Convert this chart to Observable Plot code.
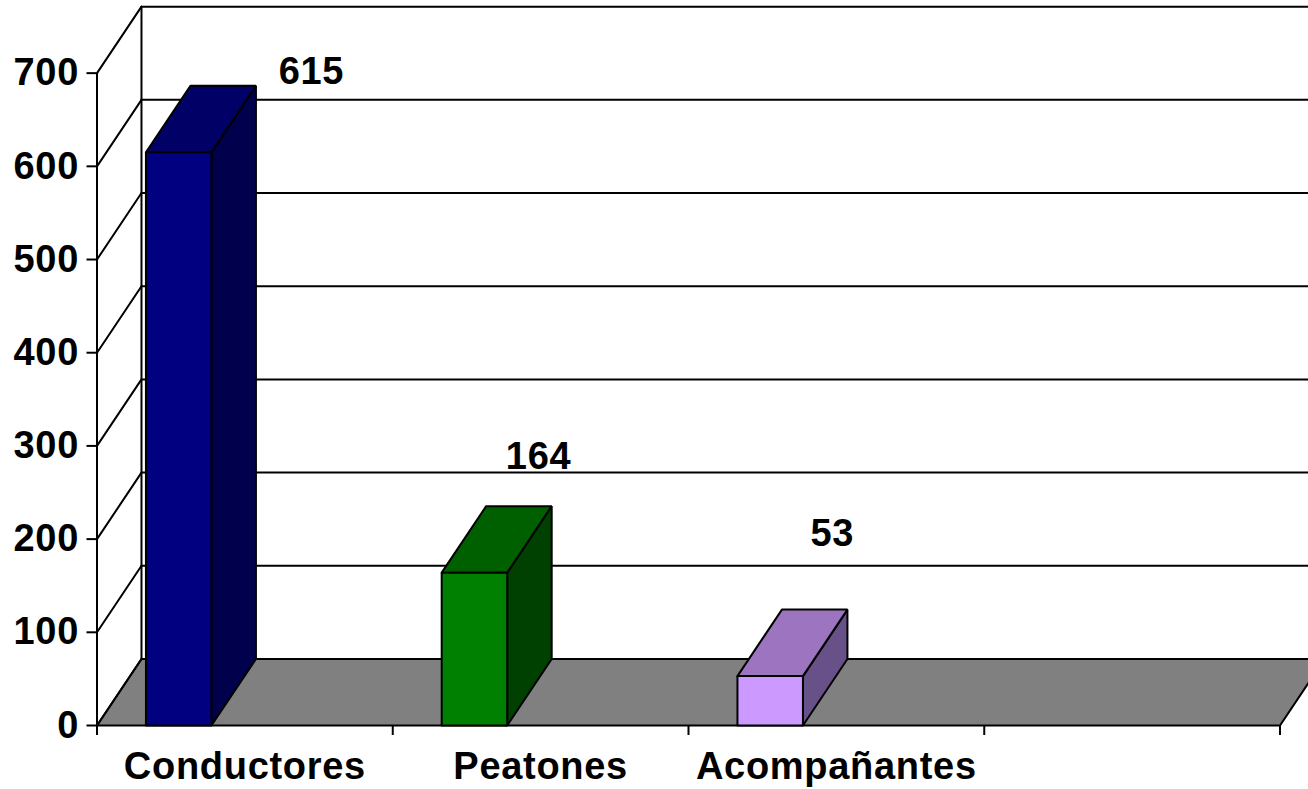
<!DOCTYPE html>
<html lang="es">
<head>
<meta charset="utf-8">
<script src="https://cdn.jsdelivr.net/npm/d3@7"></script>
<script src="https://cdn.jsdelivr.net/npm/@observablehq/plot@0.6"></script>
<style>
html,body{margin:0;padding:0;background:#fff;overflow:hidden}
svg text{letter-spacing:0.7px}
</style>
</head>
<body>
<div id="chart"></div>
<script>
const categories = ["Conductores", "Peatones", "Acompañantes"];
const values = [615, 164, 53];
const valueLabelSlot = [0.725, 1.493, 2.486];
const valueLabelLevel = [701, 288, 206];
const yTicks = [0, 100, 200, 300, 400, 500, 600, 700];
const xBoundaries = [0, 1, 2, 3, 4];
const xLabelSlots = [0.5, 1.5, 2.5];
const frontColors = ["#000080", "#008000", "#cc99ff"];
const topColors = ["#000066", "#006000", "#9d74bf"];
const sideColors = ["#00004d", "#004000", "#685088"];

const depthX = 0.1504, depthY = 71.35;   // 3D offset in slot / value units
const barStart = 0.1655, barWidth = 0.2215;
const slotEnd = 4.2, yMax = 771.5;
const lineW = 2;

const poly = (pts, fill) => Plot.line([...pts, pts[0]].map(([x, y]) => ({x, y})), {
  x: "x", y: "y", fill, stroke: "#000", strokeWidth: lineW, strokeLinejoin: "miter"
});

const wallLines = yTicks.flatMap(v => [
  Plot.line([{x: 0, y: v}, {x: depthX, y: v + depthY}], {x: "x", y: "y", stroke: "#000", strokeWidth: lineW}),
  Plot.line([{x: depthX, y: v + depthY}, {x: slotEnd, y: v + depthY}], {x: "x", y: "y", stroke: "#000", strokeWidth: lineW})
]);

const bars = values.flatMap((v, i) => {
  const x0 = i + barStart, x1 = x0 + barWidth;
  return [
    poly([[x1, 0], [x1 + depthX, depthY], [x1 + depthX, v + depthY], [x1, v]], sideColors[i]),
    poly([[x0, v], [x1, v], [x1 + depthX, v + depthY], [x0 + depthX, v + depthY]], topColors[i]),
    poly([[x0, 0], [x1, 0], [x1, v], [x0, v]], frontColors[i])
  ];
});

const font = "'Liberation Sans', Arial, sans-serif";

const chart = Plot.plot({
  width: 1308,
  height: 789,
  marginLeft: 96.5,
  marginRight: 0,
  marginTop: 6,
  marginBottom: 64,
  style: {fontFamily: font, background: "#fff", overflow: "hidden"},
  x: {domain: [0, (1308 - 96.5) / 295.75]},
  y: {domain: [0, yMax]},
  marks: [
    poly([[0, 0], [depthX, depthY], [4 + depthX, depthY], [4, 0]], "#808080"),
    ...wallLines,
    Plot.line([{x: 0, y: 0}, {x: 0, y: 700}], {x: "x", y: "y", stroke: "#000", strokeWidth: lineW}),
    Plot.line([{x: depthX, y: depthY}, {x: depthX, y: 700 + depthY}], {x: "x", y: "y", stroke: "#000", strokeWidth: lineW}),
    ...bars,
    Plot.axisY({
      ticks: yTicks, tickSize: 10, tickPadding: 8, label: null,
      fontSize: 38, fontWeight: "bold", fill: "#000", strokeWidth: lineW, stroke: "#000"
    }),
    Plot.axisX({
      ticks: xBoundaries, tickSize: 10, tickFormat: () => "", label: null,
      stroke: "#000", strokeWidth: lineW
    }),
    Plot.axisX({
      ticks: xLabelSlots, tickSize: 0, tickPadding: 27, label: null,
      tickFormat: d => categories[Math.floor(d)],
      fontSize: 38, fontWeight: "bold", fill: "#000"
    }),
    Plot.text(values, {
      x: (d, i) => valueLabelSlot[i],
      y: (d, i) => valueLabelLevel[i],
      text: d => String(d),
      fontSize: 38, fontWeight: "bold", fill: "#000", textAnchor: "middle"
    })
  ]
});
document.getElementById("chart").append(chart);
</script>
</body>
</html>
